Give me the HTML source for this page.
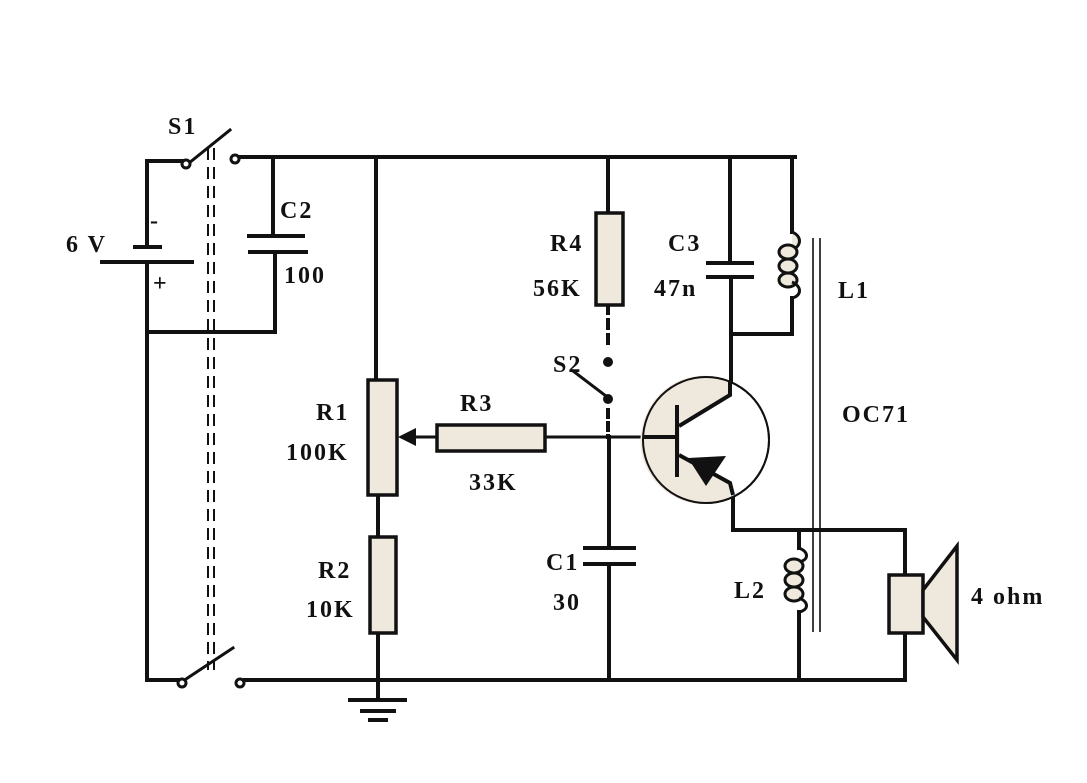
<!DOCTYPE html>
<html><head><meta charset="utf-8"><style>
html,body{margin:0;padding:0;background:#fff;}
svg{display:block;}
text{font-family:"Liberation Serif",serif;font-weight:bold;font-size:24px;letter-spacing:2px;fill:#111;}
</style></head><body>
<svg width="1087" height="783" viewBox="0 0 1087 783" xmlns="http://www.w3.org/2000/svg">
<g stroke="#111" stroke-width="4" fill="none" stroke-linecap="square">
<line x1="240" y1="157" x2="795" y2="157"/>
<polyline points="182,161 147,161 147,247"/>
<line x1="135" y1="247" x2="160" y2="247"/>
<line x1="102" y1="262" x2="192" y2="262"/>
<line x1="147" y1="262" x2="147" y2="680"/>
<line x1="147" y1="680" x2="178" y2="680"/>
<line x1="189" y1="163" x2="230" y2="130" stroke-width="3"/>
<line x1="186" y1="679" x2="233" y2="648" stroke-width="3"/>
<line x1="273" y1="157" x2="273" y2="235"/>
<line x1="249" y1="236" x2="303" y2="236"/>
<line x1="250" y1="252" x2="306" y2="252"/>
<polyline points="275,252 275,332 147,332"/>
<line x1="245" y1="680" x2="905" y2="680"/>
<line x1="376" y1="157" x2="376" y2="380"/>
<line x1="378" y1="495" x2="378" y2="537"/>
<line x1="378" y1="633" x2="378" y2="700"/>
<line x1="350" y1="700" x2="405" y2="700"/>
<line x1="362" y1="711" x2="394" y2="711"/>
<line x1="370" y1="720" x2="386" y2="720"/>
<line x1="410" y1="437" x2="437" y2="437" stroke-width="3"/>
<line x1="545" y1="437" x2="677" y2="437" stroke-width="3"/>
<line x1="608" y1="157" x2="608" y2="213"/>
<line x1="608" y1="305" x2="608" y2="350" stroke-dasharray="8,7"/>
<line x1="608" y1="410" x2="608" y2="437" stroke-dasharray="7,6"/>
<line x1="573" y1="371" x2="606" y2="396" stroke-width="3"/>
<line x1="609" y1="437" x2="609" y2="548"/>
<line x1="585" y1="548" x2="634" y2="548"/>
<line x1="585" y1="564" x2="634" y2="564"/>
<line x1="609" y1="564" x2="609" y2="680"/>
<line x1="730" y1="157" x2="730" y2="262"/>
<line x1="708" y1="263" x2="752" y2="263"/>
<line x1="708" y1="277" x2="752" y2="277"/>
<line x1="731" y1="277" x2="731" y2="395"/>
<line x1="731" y1="334" x2="792" y2="334"/>
<polyline points="792,157 792,232"/>
<polyline points="792,298 792,334"/>
<polyline points="733,490 733,530 905,530 905,575"/>
<line x1="905" y1="633" x2="905" y2="680"/>
<line x1="799" y1="530" x2="799" y2="548"/>
<line x1="799" y1="612" x2="799" y2="680"/>
</g>
<g stroke="#111" stroke-width="3" fill="#efe8dc">
<path d="M792,232 C802,236 802,246 792,250"/>
<ellipse cx="788" cy="252" rx="9" ry="7"/>
<ellipse cx="788" cy="266" rx="9" ry="7"/>
<ellipse cx="788" cy="280" rx="9" ry="7"/>
<path d="M792,282 C802,286 802,296 792,298" fill="none"/>
<path d="M799,548 C809,552 809,560 799,562" fill="none"/>
<ellipse cx="794" cy="566" rx="9" ry="7"/>
<ellipse cx="794" cy="580" rx="9" ry="7"/>
<ellipse cx="794" cy="594" rx="9" ry="7"/>
<path d="M799,598 C809,602 809,610 799,612" fill="none"/>
</g>
<g stroke="#111" stroke-width="1.6">
<line x1="813" y1="238" x2="813" y2="632"/>
<line x1="820" y1="238" x2="820" y2="632"/>
</g>
<g stroke="#111" stroke-width="2" stroke-dasharray="12,7">
<line x1="208" y1="148" x2="208" y2="670"/>
<line x1="214" y1="148" x2="214" y2="670"/>
</g>
<g stroke="#111" stroke-width="3" fill="#fff">
<circle cx="186" cy="164" r="4"/>
<circle cx="235" cy="159" r="4"/>
<circle cx="182" cy="683" r="4"/>
<circle cx="240" cy="683" r="4"/>
</g>
<circle cx="608" cy="362" r="5" fill="#111"/>
<circle cx="608" cy="399" r="5" fill="#111"/>
<g stroke="#111" stroke-width="3.5" fill="#efe8dc">
<rect x="368" y="380" width="29" height="115"/>
<rect x="370" y="537" width="26" height="96"/>
<rect x="437" y="425" width="108" height="26"/>
<rect x="596" y="213" width="27" height="92"/>
<rect x="889" y="575" width="34" height="58"/>
<polygon points="923,590 957,546 957,660 923,617"/>
</g>
<polygon points="398,437 416,428 416,446" fill="#111"/>
<circle cx="706" cy="440" r="63" fill="#fff" stroke="#111" stroke-width="2"/>
<path d="M646,415 A63,63 0 0 0 730,498 L730,482 L680,455 L680,422 L730,394 L732,382 A63,63 0 0 0 646,415 Z" fill="#efe8dc"/>
<circle cx="706" cy="440" r="63" fill="none" stroke="#111" stroke-width="2"/>
<g stroke="#111" stroke-width="4" fill="none">
<line x1="677" y1="405" x2="677" y2="477"/>
<line x1="643" y1="437" x2="677" y2="437"/>
<polyline points="679,426 730,395 730,380"/>
<polyline points="679,455 730,483 733,495"/>
</g>
<polygon points="688,458 726,456 706,486" fill="#111"/>
<text x="168" y="134">S1</text>
<text x="66" y="252">6 V</text>
<text x="150" y="228" font-size="18">-</text>
<text x="153" y="291">+</text>
<text x="280" y="218">C2</text>
<text x="284" y="283">100</text>
<text x="316" y="420">R1</text>
<text x="286" y="460">100K</text>
<text x="318" y="578">R2</text>
<text x="306" y="617">10K</text>
<text x="460" y="411">R3</text>
<text x="469" y="490">33K</text>
<text x="550" y="251">R4</text>
<text x="533" y="296">56K</text>
<text x="553" y="372">S2</text>
<text x="546" y="570">C1</text>
<text x="553" y="610">30</text>
<text x="668" y="251">C3</text>
<text x="654" y="296">47n</text>
<text x="838" y="298">L1</text>
<text x="842" y="422">OC71</text>
<text x="734" y="598">L2</text>
<text x="971" y="604" letter-spacing="3">4  ohm</text>
</svg>
</body></html>
